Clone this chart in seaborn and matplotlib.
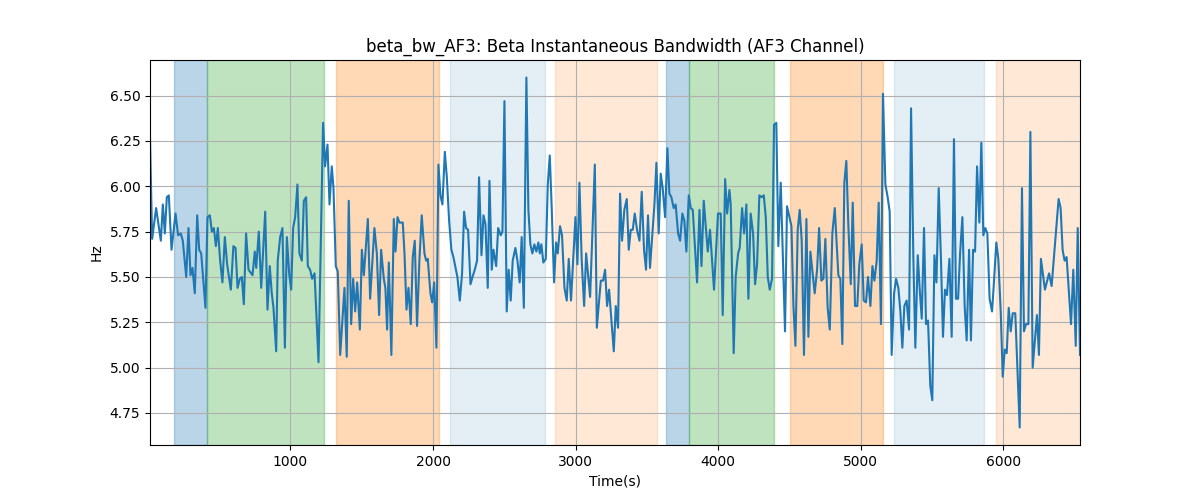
import numpy as np
import pandas as pd
import matplotlib
matplotlib.use("Agg")
import matplotlib.pyplot as plt
import seaborn as sns

# time stamps (s) and beta bandwidth (Hz)
times = [
    15, 30, 58, 91, 105, 119, 133, 147, 166, 194, 212, 231, 245, 269, 285, 299, 313, 329, 346, 360,
    374, 404, 418, 435, 449, 463, 477, 491, 507, 523, 540, 556, 582, 600, 615, 629, 645, 659, 673, 689,
    706, 734, 750, 760, 778, 795, 823, 839,
    855, 869, 881, 900, 911, 928, 944, 961, 975, 991, 1005, 1019, 1033, 1049, 1063, 1080, 1094, 1110,
    1122, 1138, 1152, 1169, 1197, 1229, 1243, 1260, 1274, 1290, 1302, 1318, 1332, 1349, 1379, 1395,
    1409, 1426, 1440, 1454, 1468, 1487, 1501, 1515, 1543, 1559, 1589, 1606, 1622, 1636, 1655,
    1666, 1678, 1690, 1708, 1725, 1737, 1751, 1765, 1788, 1800, 1814, 1828, 1844, 1858, 1872, 1888,
    1905, 1921, 1940, 1952, 1963, 1982, 1994, 2008, 2024, 2038, 2052, 2066, 2083, 2097, 2113, 2129,
    2143, 2171, 2188, 2204, 2218, 2232, 2246, 2263, 2277, 2293, 2309, 2323, 2340, 2354, 2368, 2384,
    2396, 2412, 2424, 2443, 2457, 2475,
    2487, 2501, 2517, 2531, 2545, 2559, 2578, 2592, 2608, 2622, 2637, 2655, 2669, 2683, 2697, 2711,
    2725, 2739, 2749, 2760, 2774, 2791, 2805, 2819, 2833, 2849, 2863, 2875, 2891, 2905, 2922, 2938,
    2952, 2968, 2999, 3013, 3027, 3043, 3060, 3074, 3102, 3135, 3149, 3177, 3193, 3207, 3221, 3235,
    3268, 3282,
    3298, 3312, 3326, 3342, 3359, 3373, 3387, 3401, 3415, 3431, 3448, 3464, 3480, 3494, 3508, 3522,
    3553, 3567, 3583, 3597, 3611, 3628, 3644, 3658, 3672, 3688, 3702, 3719, 3733, 3749, 3763, 3777,
    3794, 3808, 3822, 3852, 3869, 3883, 3899, 3927, 3943, 3971, 3999, 4018, 4032, 4049, 4063, 4079,
    4088, 4109,
    4123, 4140, 4151, 4168, 4182, 4198, 4212, 4228, 4245, 4259, 4273, 4289, 4306, 4320, 4334, 4348,
    4362, 4378, 4392, 4408, 4422, 4439, 4455, 4469, 4483, 4500, 4514, 4528, 4542, 4558, 4572, 4586,
    4602, 4619, 4633, 4647, 4663, 4677, 4694, 4708, 4724, 4738, 4752, 4768, 4783, 4801, 4818, 4843,
    4857, 4871, 4885, 4899, 4913, 4930, 4944,
    4960, 4976, 4990, 5007, 5021, 5037, 5051, 5068, 5082, 5096, 5112, 5126, 5142, 5156, 5173, 5189,
    5203, 5217, 5234, 5248, 5264, 5278, 5292, 5306, 5322, 5339, 5353, 5369, 5383, 5400, 5414, 5428,
    5444, 5458, 5472, 5488, 5502, 5517, 5531, 5547, 5563, 5577, 5591, 5605, 5622, 5638, 5654, 5668,
    5683, 5697, 5713, 5729, 5743, 5760,
    5773, 5788, 5802, 5816, 5832, 5846, 5860, 5874, 5888, 5904, 5921, 5932, 5951, 5965, 5982, 5996,
    6010, 6024, 6038, 6052, 6066, 6084, 6115, 6131, 6145, 6159, 6176, 6190, 6206, 6236, 6250, 6264,
    6292, 6321, 6339, 6388, 6402, 6416, 6430, 6444, 6475, 6491, 6508, 6522, 6538,
]
beta_bw = [
    6.27, 5.71, 5.88, 5.70, 5.90, 5.74, 5.94, 5.95, 5.65, 5.85, 5.73, 5.74, 5.70, 5.50, 5.77, 5.51, 5.55, 5.41, 5.84, 5.65,
    5.63, 5.33, 5.83, 5.84, 5.75, 5.77, 5.67, 5.77, 5.59, 5.47, 5.72, 5.57, 5.43, 5.67, 5.66, 5.44, 5.49, 5.50, 5.35, 5.74,
    5.54, 5.51, 5.64, 5.55, 5.75, 5.44, 5.86, 5.32,
    5.56, 5.41, 5.33, 5.09, 5.59, 5.72, 5.77, 5.11, 5.72, 5.52, 5.43, 5.77, 5.83, 6.01, 5.63, 5.59, 5.92, 5.94,
    5.56, 5.54, 5.49, 5.52, 5.03, 6.35, 6.11, 6.23, 5.90, 6.11, 5.99, 5.56, 5.53, 5.07, 5.44, 5.06,
    5.92, 5.24, 5.49, 5.31, 5.47, 5.21, 5.65, 5.51, 5.82, 5.38, 5.77, 5.63, 5.29, 5.65, 5.49,
    5.44, 5.21, 5.58, 5.07, 5.82, 5.64, 5.83, 5.80, 5.80, 5.63, 5.32, 5.44, 5.24, 5.61, 5.70, 5.23,
    5.60, 5.84, 5.63, 5.59, 5.60, 5.41, 5.36, 5.47, 5.11, 6.12, 5.95, 5.90, 6.19, 6.05, 5.81, 5.65,
    5.61, 5.50, 5.37, 5.52, 5.86, 5.77, 5.76, 5.46, 5.50, 5.54, 5.59, 6.05, 5.62, 5.84, 5.79, 5.44,
    6.03, 5.54, 5.65, 5.56, 5.77, 5.73,
    5.75, 6.47, 5.31, 5.54, 5.37, 5.59, 5.66, 5.59, 5.47, 5.72, 5.33, 6.60, 5.87, 5.68, 5.63, 5.68,
    5.64, 5.69, 5.63, 5.68, 5.58, 5.60, 6.01, 6.17, 5.87, 5.47, 5.69, 5.63, 5.78, 5.73, 5.44, 5.37,
    5.60, 5.37, 5.83, 5.57, 6.02, 5.59, 5.34, 5.63, 5.39, 6.12, 5.22, 5.48, 5.48, 5.54, 5.34, 5.43,
    5.09, 5.34,
    5.22, 5.96, 5.70, 5.87, 5.93, 5.65, 5.76, 5.76, 5.85, 5.76, 5.70, 5.97, 5.65, 5.54, 5.84, 5.55,
    5.90, 6.13, 5.74, 6.07, 5.99, 5.83, 6.21, 5.96, 5.94, 5.88, 5.90, 5.74, 5.70, 5.85, 5.81, 5.64,
    5.95, 5.88, 5.87, 5.47, 5.87, 5.56, 5.92, 5.64, 5.76, 5.43, 5.85, 5.85, 5.29, 6.04, 5.85, 5.98,
    5.90, 5.08,
    5.50, 5.63, 5.66, 5.88, 5.74, 5.90, 5.38, 5.85, 5.74, 5.46, 5.57, 5.95, 5.94, 5.95, 5.83, 5.50,
    5.43, 5.49, 6.34, 6.35, 5.67, 6.02, 5.59, 5.20, 5.89, 5.83, 5.78, 5.34, 5.12, 5.76, 5.87, 5.70,
    5.07, 5.82, 5.17, 5.64, 5.52, 5.41, 5.54, 5.77, 5.48, 5.49, 5.71, 5.33, 5.21, 5.74, 5.88, 5.51,
    5.49, 5.13, 6.02, 6.14, 5.79, 5.46, 5.91,
    5.34, 5.34, 5.57, 5.68, 5.37, 5.36, 5.50, 5.34, 5.56, 5.48, 5.59, 5.91, 5.24, 6.51, 6.01, 5.94,
    5.86, 5.07, 5.41, 5.49, 5.44, 5.31, 5.11, 5.34, 5.37, 5.21, 6.43, 5.61, 5.11, 5.62, 5.43, 5.27,
    5.77, 5.24, 5.26, 4.90, 4.82, 5.62, 5.47, 5.99, 5.59, 5.17, 5.43, 5.40, 5.60, 5.17, 6.26, 5.38,
    5.38, 5.63, 5.83, 5.34, 5.15, 5.65,
    5.15, 5.65, 5.64, 6.11, 5.80, 6.24, 5.73, 5.77, 5.74, 5.38, 5.31, 5.44, 5.69, 5.60, 5.31, 4.95,
    5.10, 5.08, 5.33, 5.20, 5.30, 5.30, 4.67, 5.99, 5.20, 5.24, 5.24, 6.30, 5.00, 5.29, 5.07, 5.60,
    5.43, 5.52, 5.45, 5.93, 5.88, 5.65, 5.59, 5.61, 5.24, 5.54, 5.12, 5.77, 5.07,
]

# shaded segments (start, end, kind)
seg_start = [184, 418, 1320, 2120, 2857, 3635, 3798, 4504, 5234, 5949]
seg_end = [418, 1236, 2040, 2784, 3570, 3798, 4390, 5154, 5862, 6600]
seg_kind = ["blue", "green", "orange", "lightblue", "lightorange",
            "blue", "green", "orange", "lightblue", "lightorange"]

kind_style = {
    "blue": ("tab:blue", 0.3),
    "green": ("tab:green", 0.3),
    "orange": ("tab:orange", 0.3),
    "lightblue": ("tab:blue", 0.12),
    "lightorange": ("tab:orange", 0.17),
}

df = pd.DataFrame({"time": times, "bw": beta_bw})

fig, ax = plt.subplots(figsize=(12, 5), dpi=100)

for s, e, k in zip(seg_start, seg_end, seg_kind):
    color, alpha = kind_style[k]
    ax.axvspan(s, e, color=color, alpha=alpha, linewidth=1)

sns.lineplot(data=df, x="time", y="bw", ax=ax, color="tab:blue", linewidth=1.5)

ax.set_xlim(df["time"].min(), df["time"].max())
ax.grid(True)
ax.set_title("beta_bw_AF3: Beta Instantaneous Bandwidth (AF3 Channel)")
ax.set_xlabel("Time(s)")
ax.set_ylabel("Hz")

plt.savefig("out.png")
